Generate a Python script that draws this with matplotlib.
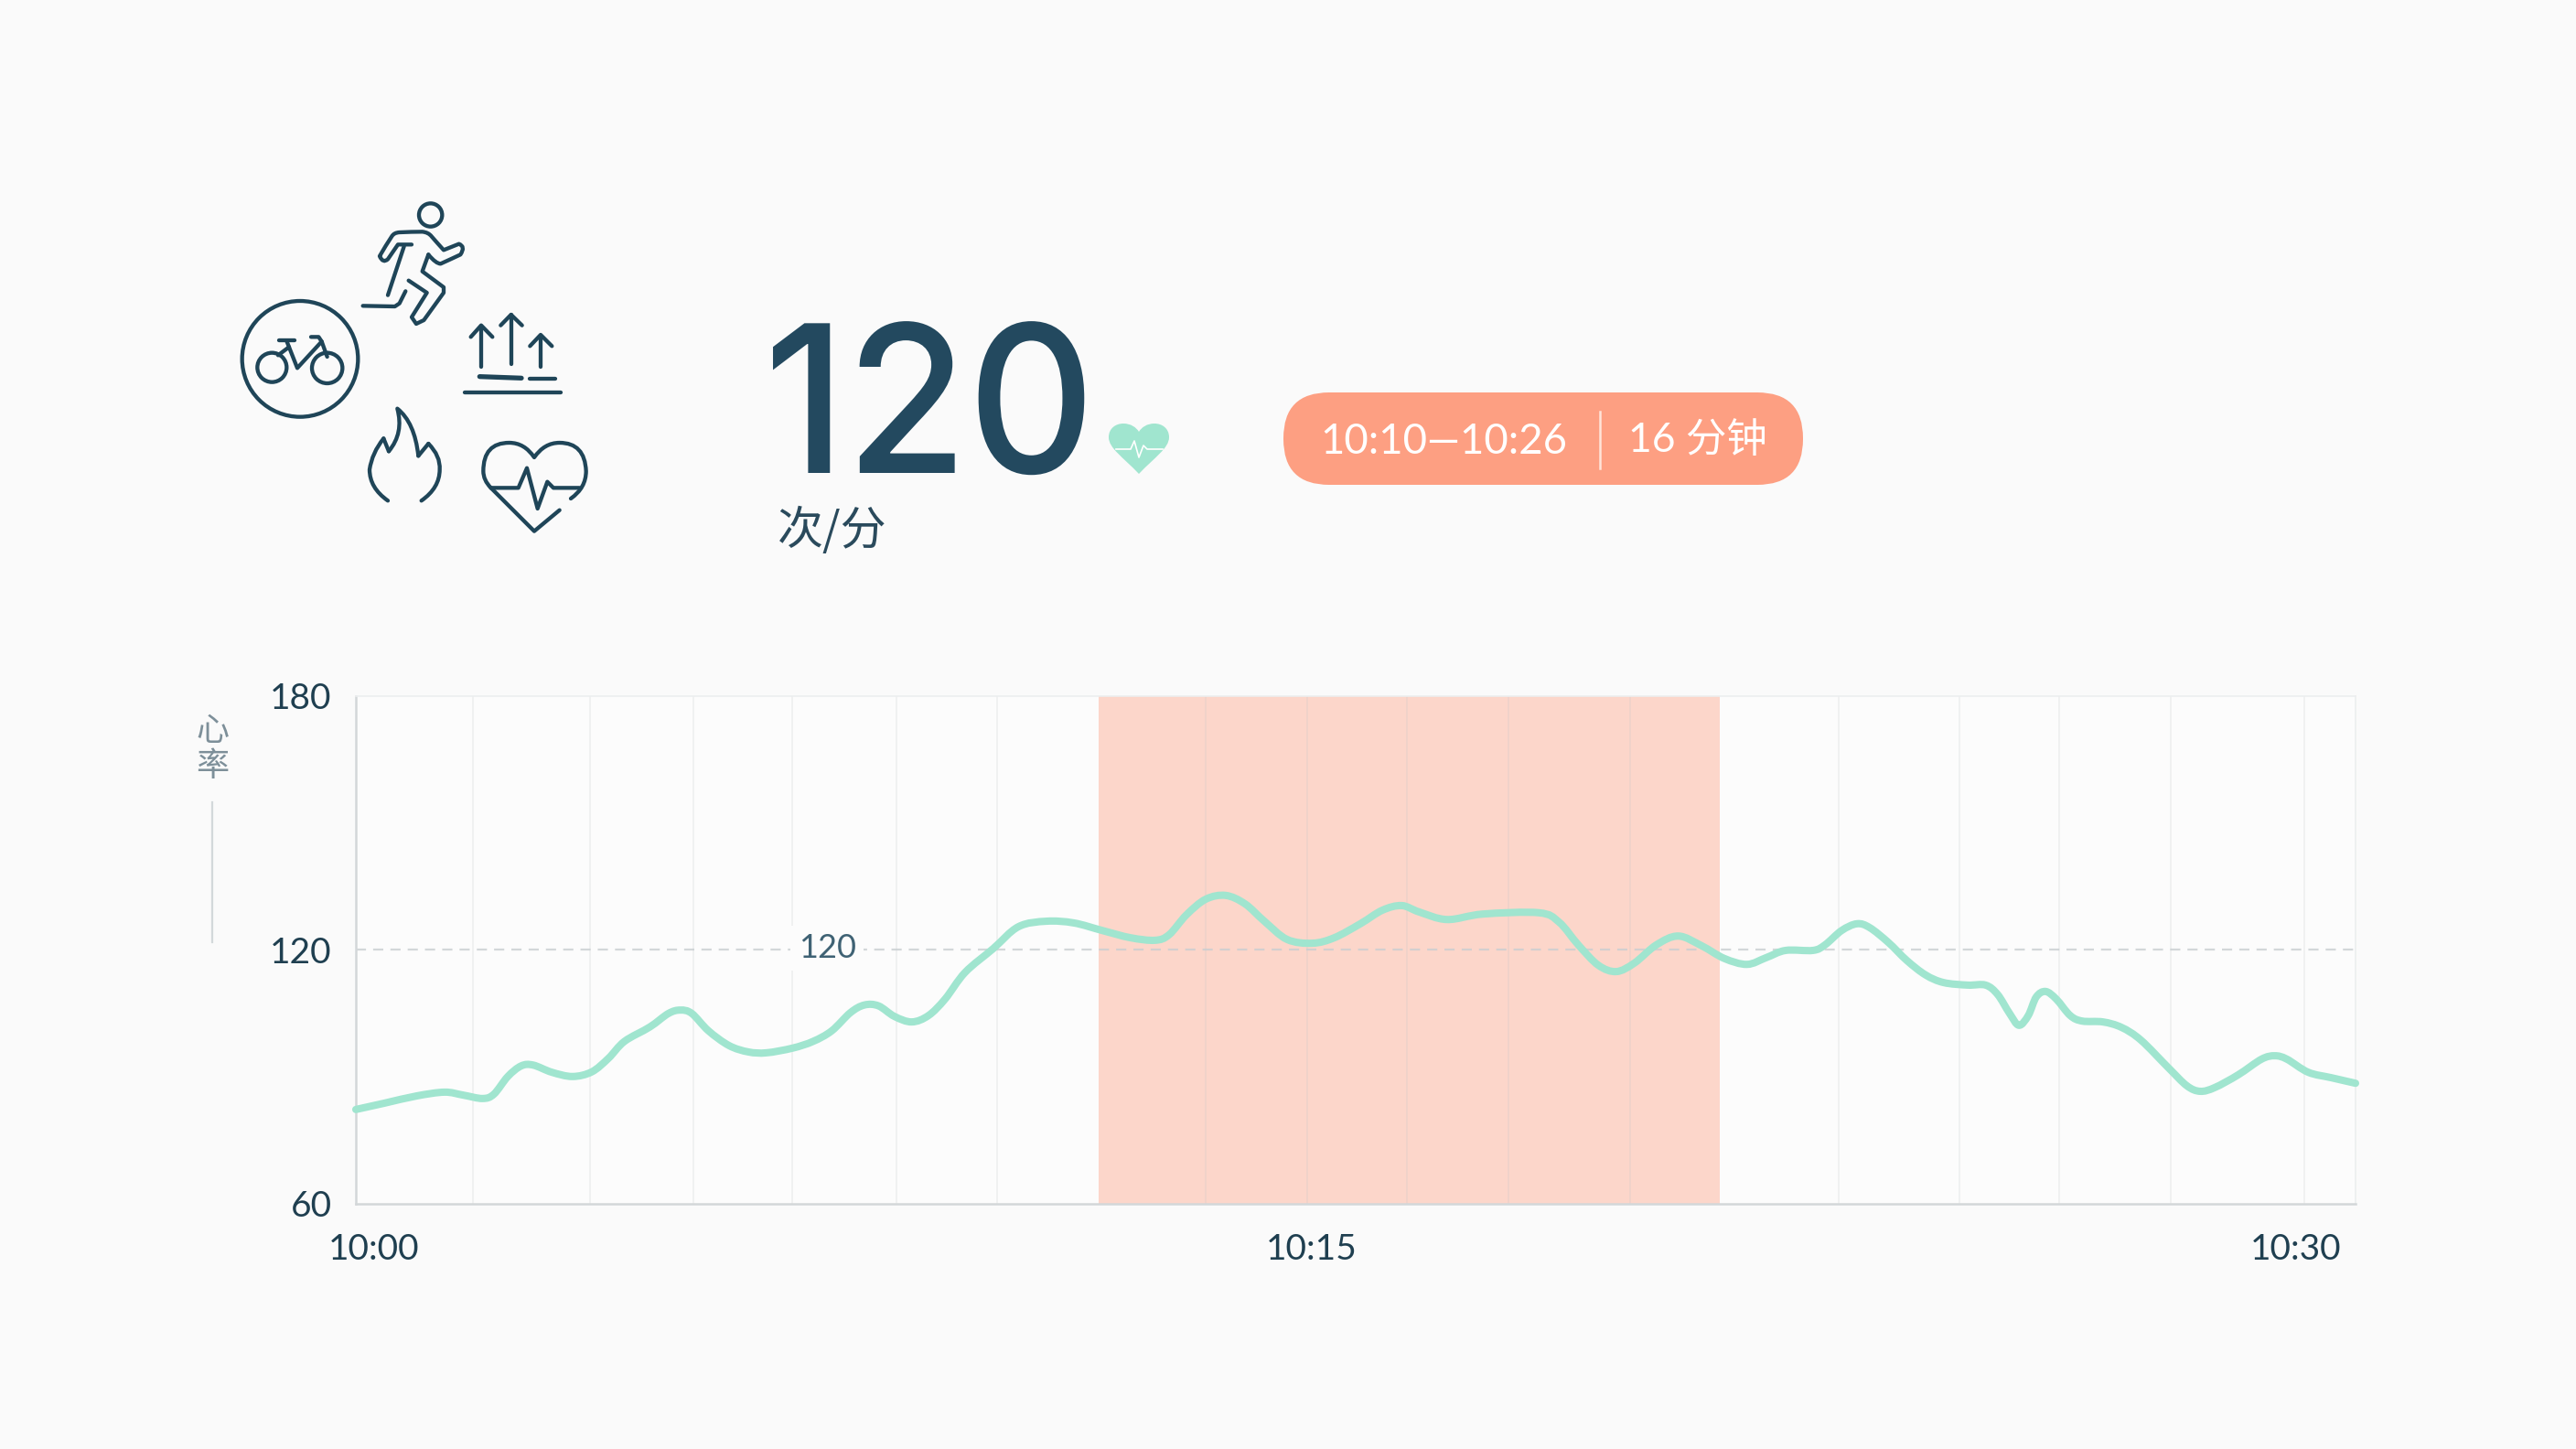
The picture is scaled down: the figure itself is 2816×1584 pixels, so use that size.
#!/usr/bin/python3
import matplotlib
matplotlib.use("Agg")
import matplotlib.pyplot as plt
from matplotlib.patches import Circle, FancyBboxPatch, PathPatch
from matplotlib.patheffects import AbstractPathEffect
from matplotlib.path import Path
from matplotlib.transforms import Affine2D

plt.rcParams['font.family'] = ['Lato', 'Noto Sans CJK SC', 'DejaVu Sans']

#minutes after 10:00 and bpm
minutes = [0.00, 0.43, 0.91, 1.33, 1.61, 1.90, 2.07, 2.28, 2.48, 2.66, 2.94, 3.25, 3.54, 3.79, 4.03,
           4.41, 4.69, 4.87, 5.04, 5.29, 5.60, 5.89, 6.16, 6.55, 6.86, 7.14, 7.42, 7.63, 7.84, 8.08,
           8.34, 8.59, 8.84, 9.14, 9.56, 9.94, 10.36, 10.77, 11.20, 11.62, 11.99, 12.20, 12.46, 12.75, 13.05,
           13.34, 13.63, 13.97, 14.35, 14.68, 15.07, 15.40, 15.69, 15.95, 16.37, 16.91, 17.75, 18.05, 18.34, 18.64,
           18.91, 19.18, 19.51, 19.84, 20.19, 20.53, 20.87, 21.16, 21.45, 21.86, 22.04, 22.29, 22.52, 22.71, 22.99,
           23.27, 23.55, 23.82, 24.18, 24.45, 24.63, 24.81, 24.95, 25.09, 25.21, 25.35, 25.51, 25.72, 25.90, 26.21,
           26.49, 26.78, 27.19, 27.47, 27.67, 27.89, 28.24, 28.59, 28.79, 28.97, 29.29, 29.64, 30.00]
heart_rate = [82.3, 83.8, 85.5, 86.4, 85.7, 84.9, 85.9, 90.1, 92.6, 92.8, 91.1, 90.1, 91.2, 94.4, 98.4,
              101.8, 105.0, 105.8, 105.0, 100.9, 97.4, 95.9, 95.7, 96.8, 98.4, 100.9, 105.2, 107.0, 106.8, 104.3,
              103.0, 104.5, 108.4, 114.7, 120.3, 125.5, 126.8, 126.4, 124.6, 122.9, 122.3, 123.6, 128.3, 132.0, 132.9,
              130.9, 126.8, 122.5, 121.6, 122.9, 126.2, 129.4, 130.5, 129.0, 127.2, 128.5, 128.8, 126.6, 121.2, 116.4,
              114.9, 116.9, 121.2, 123.3, 121.0, 118.0, 116.6, 118.2, 119.9, 119.9, 121.2, 124.6, 126.2, 125.3, 121.8,
              117.5, 114.1, 112.3, 111.7, 111.7, 109.5, 105.0, 102.2, 104.5, 108.9, 110.2, 108.4, 104.5, 103.2, 103.0,
              101.7, 98.7, 92.2, 87.9, 86.6, 87.5, 90.5, 94.2, 95.0, 94.2, 91.1, 89.8, 88.5]
grid_minutes = [1.76, 3.51, 5.06, 6.55, 8.11, 9.62, 12.75, 14.27, 15.77, 17.29, 19.12, 22.25, 24.06, 25.55, 27.23, 29.23]
zone_start = 11.14
zone_end = 20.46
y_ticks = [60, 120, 180]
x_ticks = [0.27, 14.33, 29.10]
x_labels = ['10:00', '10:15', '10:30']

DARK = '#1f3f50'
NAVY = '#23495f'
MINT = '#a0e5cf'
CORAL = '#fd9f82'
BG = '#fafafa'
PLOT_BG = '#fcfcfc'

W, H = 2816, 1584
fig = plt.figure(figsize=(W / 200, H / 200), dpi=200, facecolor=BG)


def smooth_path(xs, ys):
    #bezier through every read point, so the trace has no kinks
    pts = list(zip(xs, ys))
    verts = [pts[0]]
    codes = [Path.MOVETO]
    for i in range(len(pts) - 1):
        p0 = pts[max(i - 1, 0)]
        p1 = pts[i]
        p2 = pts[i + 1]
        p3 = pts[min(i + 2, len(pts) - 1)]
        verts.append((p1[0] + (p2[0] - p0[0]) / 6, p1[1] + (p2[1] - p0[1]) / 6))
        verts.append((p2[0] - (p3[0] - p1[0]) / 6, p2[1] - (p3[1] - p1[1]) / 6))
        verts.append(p2)
        codes += [Path.CURVE4] * 3
    return Path(verts, codes)


class SqueezeX(AbstractPathEffect):
    #big number is set tighter than any installed font
    def __init__(self, x0, factor):
        super().__init__()
        self.x0 = x0
        self.factor = factor

    def draw_path(self, renderer, gc, tpath, affine, rgbFace=None):
        squeeze = Affine2D().translate(-self.x0, 0).scale(self.factor, 1).translate(self.x0, 0)
        renderer.draw_path(gc, tpath, affine + squeeze, rgbFace)


#the chart
ax = fig.add_axes([389 / W, 1 - 1316 / H, (2575 - 389) / W, (1316 - 761) / H], facecolor=PLOT_BG)
ax.set_xlim(0, 30)
ax.set_ylim(60, 180)
ax.axvspan(zone_start, zone_end, color='#fcd6ca', lw=0, zorder=1)
for g in grid_minutes:
    ax.axvline(g, color='#bcc2c5', alpha=0.22, lw=0.6, zorder=1.5)
ax.axhline(120, color='#c9ced1', alpha=0.8, lw=0.8, ls=(0, (5, 3.5)), zorder=2)
ax.add_patch(PathPatch(smooth_path(minutes, heart_rate), facecolor='none', edgecolor=MINT, lw=2.9,
                       capstyle='round', joinstyle='round', zorder=3, clip_on=False))
ax.text(7.07, 120.4, '120', color='#3f6274', fontsize=13, ha='center', va='center', zorder=2.5,
        bbox=dict(facecolor=PLOT_BG, edgecolor='none', pad=3))
ax.set_yticks(y_ticks)
ax.set_xticks(x_ticks)
ax.set_xticklabels(x_labels)
ax.tick_params(length=0, labelcolor=DARK, labelsize=14)
ax.tick_params(axis='y', pad=9.5)
ax.tick_params(axis='x', pad=11.5)
for side in ['left', 'bottom']:
    ax.spines[side].set_color('#d3d7d9')
    ax.spines[side].set_linewidth(0.9)
for side in ['top', 'right']:
    ax.spines[side].set_color('#eceeef')
    ax.spines[side].set_linewidth(0.6)

#overlay in figure pixels for header things
px = fig.add_axes([0, 0, 1, 1], zorder=5)
px.set_xlim(0, W)
px.set_ylim(H, 0)
px.axis('off')

px.text(232, 800, '心', color='#7d8f99', fontsize=13, ha='center', va='center', fontweight='light')
px.text(232, 838, '率', color='#7d8f99', fontsize=13, ha='center', va='center', fontweight='light')
px.plot([232, 232], [877, 1030], color='#d3d8da', lw=0.8)

big = px.text(835, 517, '120', color=NAVY, fontsize=81, fontweight='medium', family='Inter',
              ha='left', va='baseline')
big.set_path_effects([SqueezeX(835, 0.96)])
px.text(850, 581, '次/分', color='#2a4a5c', fontsize=18, ha='left', va='center', fontweight='light',
        family=['Noto Sans CJK SC', 'DejaVu Sans'])

heart_verts = [(1245, 518), (1228, 500), (1212, 490), (1212, 478), (1212, 468), (1220, 463), (1228, 463),
               (1236, 463), (1242, 467), (1245, 472), (1248, 467), (1254, 463), (1262, 463), (1270, 463),
               (1278, 468), (1278, 478), (1278, 490), (1262, 500), (1245, 518)]
heart_codes = [Path.MOVETO] + [Path.CURVE4] * 18
px.add_patch(PathPatch(Path(heart_verts, heart_codes), facecolor=MINT, edgecolor='none'))
px.plot([1220, 1236, 1240, 1245, 1250, 1254, 1271], [491, 491, 482, 500, 487, 491, 491], color='white', lw=0.6)

px.add_patch(FancyBboxPatch((1403, 429), 568, 101, boxstyle='round,pad=0,rounding_size=50',
                            facecolor=CORAL, edgecolor='none'))
px.plot([1749, 1749], [450, 512], color='#ffe3d9', lw=0.9)
px.text(1578, 483, '10:10—10:26', color='white', fontsize=16.4, ha='center', va='center')
px.text(1856, 482, '16 分钟', color='white', fontsize=16, ha='center', va='center')

#icons, coordinates are in a 3x crop of the icon cluster
ic = fig.add_axes([220 / W, 1 - 610 / H, 460 / W, 420 / H], zorder=4)
ic.set_xlim(0, 1380)
ic.set_ylim(1260, 0)
ic.axis('off')
ICON = '#1f4558'
LW = 1.55


def stroke(points, lw=LW):
    ic.plot([p[0] for p in points], [p[1] for p in points], color=ICON, lw=lw,
            solid_capstyle='round', solid_joinstyle='round')


def curve(verts):
    #quadratic segments: start, ctrl, end, ctrl, end ...
    codes = [Path.MOVETO] + [Path.CURVE3] * (len(verts) - 1)
    ic.add_patch(PathPatch(Path(verts, codes), facecolor='none', edgecolor=ICON, lw=LW,
                           capstyle='round', joinstyle='round'))


#runner
ic.add_patch(Circle((752, 135), 38, fill=False, edgecolor=ICON, lw=LW))
curve([(690, 232), (645, 232), (645, 232), (612, 280), (612, 280), (596, 295), (585, 270), (605, 235), (625, 205),
       (632, 193), (650, 192), (690, 190), (725, 190), (745, 192), (755, 205), (775, 228), (795, 250),
       (820, 240), (845, 230), (868, 238), (850, 265), (818, 280), (785, 295), (770, 295), (745, 265)])
stroke([(745, 265), (725, 320), (795, 372), (795, 390), (730, 480), (705, 492), (690, 470), (740, 390), (680, 350)])
stroke([(665, 238), (612, 398)])
stroke([(670, 385), (650, 425), (635, 435), (530, 433)])

#bike in a circle
ic.add_patch(Circle((324, 607), 190, fill=False, edgecolor=ICON, lw=LW))
ic.add_patch(Circle((232, 635), 48, fill=False, edgecolor=ICON, lw=LW))
ic.add_patch(Circle((413, 637), 50, fill=False, edgecolor=ICON, lw=LW))
stroke([(255, 545), (305, 545)])
stroke([(280, 548), (315, 637), (395, 550), (385, 535), (360, 535)])
stroke([(252, 595), (288, 568)])
stroke([(395, 550), (413, 600)])

#arrows
stroke([(918, 632), (918, 500)])
stroke([(884, 535), (918, 497), (955, 535)])
stroke([(1016, 625), (1016, 462)])
stroke([(982, 497), (1016, 462), (1052, 497)])
stroke([(1113, 632), (1113, 530)])
stroke([(1078, 565), (1113, 528), (1150, 565)])
stroke([(913, 665), (1050, 670)], lw=1.9)
stroke([(1078, 672), (1160, 672)])
stroke([(865, 716), (1180, 716)])

#flame
curve([(612, 1072), (552, 1030), (552, 970), (560, 915), (598, 868)])
stroke([(598, 868), (615, 910)])
curve([(615, 910), (665, 850), (643, 770), (700, 815), (712, 925)])
stroke([(712, 925), (745, 885)])
curve([(745, 885), (785, 925), (782, 970), (782, 1030), (722, 1072)])

#heart
curve([(1212, 1065), (1262, 1030), (1262, 975), (1258, 882), (1175, 882), (1125, 882), (1092, 930),
       (1060, 882), (1010, 882), (925, 882), (925, 975), (925, 1005), (950, 1030)])
stroke([(950, 1030), (1092, 1172), (1175, 1103)])
stroke([(950, 1030), (1040, 1030), (1068, 965), (1103, 1098), (1135, 1010), (1155, 1030), (1240, 1030)])

fig.savefig('out.png', dpi=200, facecolor=BG)
